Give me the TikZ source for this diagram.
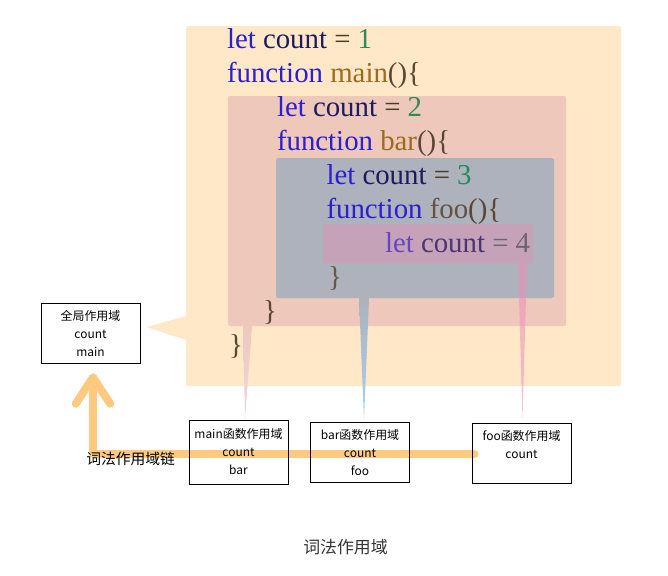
\documentclass[tikz,border=0pt]{standalone}
\usepackage{fontspec}
\setmainfont{Liberation Serif}
\newfontfamily\cjk{Noto Sans CJK SC}
\usepackage{xcolor}
\usetikzlibrary{
	arrows.meta,
	calc,
	backgrounds,
	positioning,
	}
\definecolor{globfill}{HTML}{FFE8C8}
\definecolor{mainfill}{HTML}{EEC8BB}
\definecolor{barfill}{HTML}{ADB2BC}
\definecolor{foofill}{HTML}{C6A2B8}
\definecolor{kw}{HTML}{2B1ED3}
\definecolor{var}{HTML}{1E1B5E}
\definecolor{op}{HTML}{4B3B22}
\definecolor{num}{HTML}{2E8B57}
\definecolor{fn}{HTML}{9B6B1E}
\definecolor{pn}{HTML}{5A4632}
\definecolor{kwfoo}{HTML}{6447C0}
\definecolor{varfoo}{HTML}{4B3672}
\definecolor{numfoo}{HTML}{6B6572}
\definecolor{chainorange}{HTML}{FFC97F}
\definecolor{tailblue}{HTML}{A6D2F2}
\definecolor{tailpink}{HTML}{EE8FB8}
\definecolor{capgray}{HTML}{333333}

\begin{document}
\begin{tikzpicture}[x=0.025cm,y=-0.025cm,
	code/.style={anchor=base west,inner sep=0pt,outer sep=0pt,font=\fontsize{20.5}{24}\selectfont},
	scopebox/.style={draw,thin,shape=rectangle,minimum width=2.48cm,minimum height=1.5cm,align=center,inner sep=0pt,font=\cjk\fontsize{8.5}{12.8}\selectfont},
	chain/.style={line width=0.2cm,draw=chainorange,line cap=round,line join=round}]
\useasboundingbox (0,0) rectangle (668,575);
\node[code] (l1) at (227,48) {\textcolor{kw}{let} \textcolor{var}{count} \textcolor{op}{=} \textcolor{num}{1}};
\node[code] (l2) at (227,82) {\textcolor{kw}{function} \textcolor{fn}{main}\textcolor{pn}{()\{}};
\node[code] (l3) at (277,116) {\textcolor{kw}{let} \textcolor{var}{count} \textcolor{op}{=} \textcolor{num}{2}};
\node[code] (l4) at (277,150) {\textcolor{kw}{function} \textcolor{fn}{bar}\textcolor{pn}{()\{}};
\node[code] (l5) at (326.5,184) {\textcolor{kw}{let} \textcolor{var}{count} \textcolor{op}{=} \textcolor{num!80!teal}{3}};
\node[code] (l6) at (326.5,218) {\textcolor{kw}{function} \textcolor{pn!80!gray}{foo}\textcolor{pn}{()\{}};
\node[code] (l7) at (385,252) {\textcolor{kwfoo}{let} \textcolor{varfoo}{count} \textcolor{numfoo}{=} \textcolor{numfoo}{4}};
\node[code] (l8) at (328,286) {\textcolor{pn!70!gray}{\}}};
\node[code] (l9) at (263,320) {\textcolor{pn}{\}}};
\node[code] (l10) at (229,354) {\textcolor{pn}{\}}};
\node[scopebox] (gs) at (90.5,333) {全局作用域\\count\\main};
\node[scopebox,minimum height=1.6cm] (ms) at (238.5,452) {main函数作用域\\count\\bar};
\node[scopebox] (bs) at (360,452.5) {bar函数作用域\\count\\foo};
\node[scopebox] (fs) at (521.5,453) {foo函数作用域\\count\\~};
\node[font=\cjk\fontsize{10.5}{12}\selectfont,anchor=west,inner sep=0pt] (cl) at (86,459) {词法作用域链};
\node[font=\cjk\fontsize{12}{14}\selectfont,text=capgray] (cap) at (345.5,547) {词法作用域};
\begin{scope}[on background layer]
\fill[globfill,rounded corners=1.5pt] (186,26) rectangle (621,386);
\fill[globfill] (186,316) -- ($(gs.east)+(6,-6)$) -- (186,340) -- cycle;
\fill[mainfill,rounded corners=1.5pt] (228,96) rectangle (566,326);
\fill[barfill,rounded corners=1.5pt] (276,158) rectangle (554,298);
\fill[foofill,rounded corners=1.5pt] (323,224) rectangle (533,263);
\shade[top color=mainfill,bottom color=mainfill!50!violet!25] (243,326) -- (252,326) -- ($(ms.north)+(6.5,0)$) -- cycle;
\shade[top color=barfill,bottom color=tailblue] (359,298) -- (369,298) -- ($(bs.north)+(4,-2)$) -- cycle;
\fill[tailpink,fill opacity=0.55] (518,263) -- (527,263) -- ($(fs.north)+(1,-4)$) -- cycle;
\draw[chain,-{Straight Barb[length=0.66cm,width=0.86cm,round]}] ($(fs.west)+(3,1)$) -| ($(gs.south)+(2.5,10)$);
\end{scope}
\end{tikzpicture}
\end{document}
